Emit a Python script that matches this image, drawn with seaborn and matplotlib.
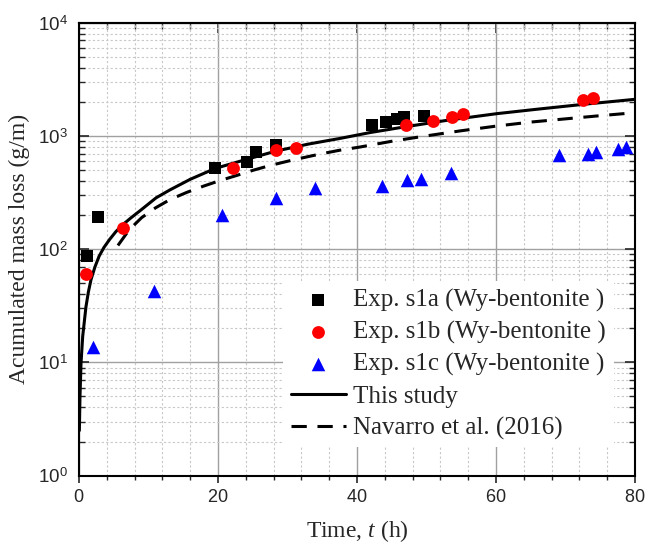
import numpy as np
import pandas as pd
import matplotlib
matplotlib.use("Agg")
import matplotlib.pyplot as plt
import matplotlib.ticker as mticker
import seaborn as sns

# Exp. s1a (black squares)
t_s1a = [1.1, 2.7, 19.6, 24.1, 25.5, 28.3, 42.1, 44.2, 45.8, 46.8, 49.6]
m_s1a = [87, 192, 518, 589, 721, 832, 1250, 1340, 1406, 1485, 1503]

# Exp. s1b (red circles)
t_s1b = [1.0, 6.4, 22.1, 28.3, 31.2, 47.0, 51.0, 53.6, 55.2, 72.5, 74.0]
m_s1b = [60, 155, 521, 751, 789, 1244, 1358, 1473, 1578, 2084, 2188]

# Exp. s1c (blue triangles)
t_s1c = [2.0, 10.8, 20.6, 28.3, 34.0, 43.6, 47.2, 49.2, 53.5, 69.0, 73.2, 74.4, 77.6, 78.7]
m_s1c = [13.6, 43, 199, 281, 349, 361, 408, 420, 474, 675, 699, 728, 773, 800]

# This study (solid curve)
t_model = [0.05, 0.14, 0.29, 0.53, 0.8, 1.0, 1.35, 1.73, 2.3, 2.9, 3.6, 4.4,
           5.3, 6.3, 7.5, 8.7, 11.1, 13.1, 16.0, 19.6, 24.0, 28.3, 33.0, 37.6,
           41.9, 47.0, 53.0, 60.1, 66.0, 73.0, 80.0]
m_model = [2.5, 5.0, 9.9, 17, 24, 31, 42, 54, 70, 87, 104, 122,
           143, 165, 190, 217, 285, 335, 415, 518, 620, 736, 850, 955,
           1075, 1210, 1380, 1578, 1730, 1920, 2113]

# Navarro et al. (2016) (dashed curve)
t_nav = [5.6, 7.2, 9.0, 11.0, 13.1, 15.5, 17.9, 20.3, 22.7, 25.1, 27.5, 31.0,
         34.5, 37.5, 40.4, 45.0, 50.0, 55.0, 60.1, 65.0, 70.0, 75.0, 80.0]
m_nav = [108, 148, 190, 232, 275, 318, 361, 405, 449, 500, 550, 620,
         690, 750, 800, 900, 1005, 1115, 1227, 1330, 1420, 1515, 1610]

sns.set_theme(style="ticks")
plt.rcParams["font.family"] = ["Liberation Serif", "DejaVu Serif"]
plt.rcParams["mathtext.fontset"] = "custom"
plt.rcParams["mathtext.rm"] = "Liberation Sans"
plt.rcParams["mathtext.it"] = "Liberation Serif:italic"

fig = plt.figure(figsize=(6.45, 5.46), dpi=100)
ax = fig.add_axes([0.1225, 0.129, 0.862, 0.829])

ax.set_yscale("log")
ax.set_xlim(0, 80)
ax.set_ylim(1, 1e4)

# grid
ax.xaxis.set_major_locator(mticker.MultipleLocator(20))
ax.xaxis.set_minor_locator(mticker.MultipleLocator(4))
ax.yaxis.set_major_locator(mticker.LogLocator(base=10, numticks=10))
ax.yaxis.set_minor_locator(mticker.LogLocator(base=10, subs=np.arange(2, 10), numticks=20))
ax.yaxis.set_minor_formatter(mticker.NullFormatter())
ax.grid(which="major", color="#a0a0a0", lw=1.0, ls="-", zorder=0)
ax.grid(which="minor", color="#c8c8c8", lw=0.8, ls=(0, (2, 2)), zorder=0)
ax.set_axisbelow(True)

lw_curve = 2.2
sns.lineplot(x=t_model, y=m_model, ax=ax, color="black", lw=lw_curve,
             label="This study", sort=False, estimator=None, zorder=3)
sns.lineplot(x=t_nav, y=m_nav, ax=ax, color="black", lw=lw_curve,
             label="Navarro et al. (2016)", sort=False,
             estimator=None, zorder=3)
ax.lines[-1].set_linestyle((0, (5, 3.5)))

sns.scatterplot(x=t_s1a, y=m_s1a, ax=ax, marker="s", color="black", s=70,
                linewidth=0, label="Exp. s1a (Wy-bentonite )", zorder=4)
sns.scatterplot(x=t_s1b, y=m_s1b, ax=ax, marker="o", color="#ff0000", s=85,
                linewidth=0, label="Exp. s1b (Wy-bentonite )", zorder=4)
sns.scatterplot(x=t_s1c, y=m_s1c, ax=ax, marker="^", color="#0000ff", s=95,
                linewidth=0, label="Exp. s1c (Wy-bentonite )", zorder=4)

# tick labels
ax.xaxis.set_major_formatter(mticker.FuncFormatter(lambda v, p: r"$%d$" % int(v)))
ax.yaxis.set_major_formatter(mticker.FuncFormatter(
    lambda v, p: r"$10^{%d}$" % int(round(np.log10(v)))))

ax.tick_params(axis="x", which="both", direction="out", top=False, labelsize=13, pad=5)
ax.tick_params(axis="x", which="major", length=5, width=1.2)
ax.tick_params(axis="x", which="minor", length=3, width=1.0)
ax.tick_params(axis="y", which="both", direction="in", left=True, right=True)
ax.tick_params(axis="y", which="major", length=7, width=1.2, labelsize=13.5, pad=8)
ax.tick_params(axis="y", which="minor", length=4, width=1.0)

top = ax.secondary_xaxis("top")
top.xaxis.set_major_locator(mticker.MultipleLocator(20))
top.xaxis.set_minor_locator(mticker.MultipleLocator(4))
top.tick_params(which="both", direction="in", labeltop=False)
top.tick_params(which="major", length=7, width=1.2)
top.tick_params(which="minor", length=4, width=1.0)
top.spines["top"].set_linewidth(1.5)

for sp in ax.spines.values():
    sp.set_linewidth(1.5)
    sp.set_color("black")

ax.set_xlabel(r"Time, $\mathit{t}$ (h)", fontsize=17, labelpad=8)
ax.set_ylabel("Acumulated mass loss (g/m)", fontsize=17, labelpad=6)

handles, labels = ax.get_legend_handles_labels()
order = [2, 3, 4, 0, 1]
leg = ax.legend([handles[i] for i in order], [labels[i] for i in order],
                loc="lower right", bbox_to_anchor=(0.966, 0.057), fontsize=18,
                frameon=True, fancybox=False, framealpha=1.0, edgecolor="none",
                handlelength=2.2, handletextpad=0.3, labelspacing=0.36,
                borderpad=0.3, borderaxespad=0.1)
leg.set_zorder(5)

fig.savefig("out.png", dpi=100)
